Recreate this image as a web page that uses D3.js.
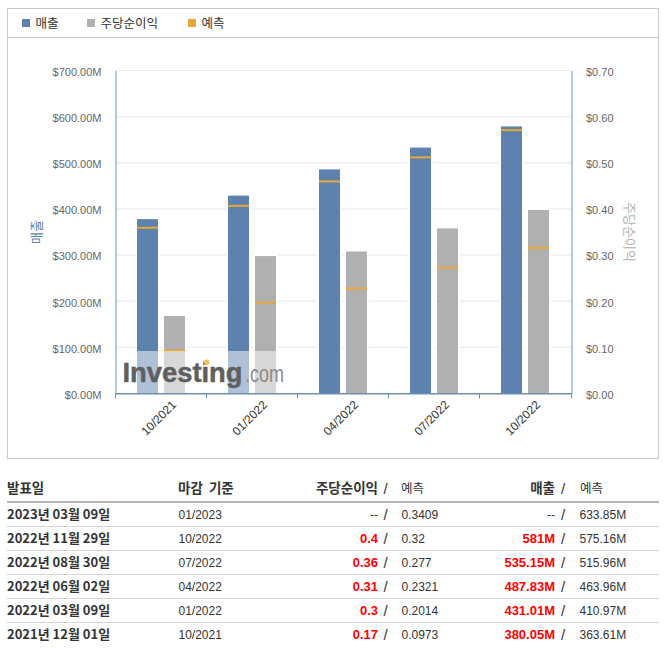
<!DOCTYPE html>
<html>
<head>
<meta charset="utf-8">
<title>매출 / 주당순이익</title>
<script src="https://d3js.org/d3.v7.min.js" charset="utf-8"></script>
<style type="text/css">
body { margin: 0; background: #fff; }
svg { display: block; }
text { font-family: 'Liberation Sans', Arial, sans-serif; }
text.kr { font-family: 'Noto Sans CJK KR', 'Liberation Sans', sans-serif; }
.axis-y text { font-size: 11px; fill: #666; }
.axis-x text { font-size: 12px; fill: #333; }
.cell { font-size: 12px; fill: #333; }
.slash { font-size: 15px; fill: #333; }
.cell-date { font-size: 13px; font-weight: 700; fill: #333; font-family: 'Noto Sans CJK KR', sans-serif; }
.cell-head { font-size: 13.5px; font-weight: 700; fill: #333; font-family: 'Noto Sans CJK KR', sans-serif; word-spacing: 3px; }
.cell-red { font-size: 13px; font-weight: 700; fill: #f00; }
</style>
</head>
<body>
<div id="chart"></div>
<script type="text/javascript">
// chart data
var categories = ['10/2021', '01/2022', '04/2022', '07/2022', '10/2022'];
var revenue = [380.05, 431.01, 487.83, 535.15, 581];
var revenueForecast = [363.61, 410.97, 463.96, 515.96, 575.16];
var eps = [0.17, 0.3, 0.31, 0.36, 0.4];
var epsForecast = [0.0973, 0.2014, 0.2321, 0.277, 0.32];

var revenueTicks = [0, 100, 200, 300, 400, 500, 600, 700];
var epsTicks = [0, 0.1, 0.2, 0.3, 0.4, 0.5, 0.6, 0.7];

// table data, newest first
var tableDates = ['2023년 03월 09일', '2022년 11월 29일', '2022년 08월 30일', '2022년 06월 02일', '2022년 03월 09일', '2021년 12월 01일'];
var tablePeriods = ['01/2023', '10/2022', '07/2022', '04/2022', '01/2022', '10/2021'];
var tableEps = ['--', '0.4', '0.36', '0.31', '0.3', '0.17'];
var tableEpsForecast = ['0.3409', '0.32', '0.277', '0.2321', '0.2014', '0.0973'];
var tableRevenue = ['--', '581M', '535.15M', '487.83M', '431.01M', '380.05M'];
var tableRevenueForecast = ['633.85M', '575.16M', '515.96M', '463.96M', '410.97M', '363.61M'];

var legendItems = ['매출', '주당순이익', '예측'];

var BLUE = '#5c82ad';
var GRAY = '#b0b0b0';
var ORANGE = '#e8a838';
var AXIS = '#6a8fb8';

var svg = d3.select('#chart').append('svg')
    .attr('width', 666)
    .attr('height', 654);

// outer frame
svg.append('rect')
    .attr('x', 7.5).attr('y', 8.5)
    .attr('width', 651).attr('height', 450)
    .attr('fill', '#fff').attr('stroke', '#c8c8c8');
svg.append('line')
    .attr('x1', 8).attr('x2', 658)
    .attr('y1', 37.5).attr('y2', 37.5)
    .attr('stroke', '#c8c8c8');

// legend
var legendX = [22, 87, 188];
var legendColors = [BLUE, GRAY, ORANGE];
var legend = svg.append('g').selectAll('g')
    .data(legendItems)
    .enter()
    .append('g')
    .attr('transform', function(d, i){ return 'translate(' + legendX[i] + ',19)'; });
legend.append('rect')
    .attr('width', 8).attr('height', 8)
    .attr('fill', function(d, i){ return legendColors[i]; });
legend.append('text')
    .attr('class', 'kr')
    .attr('x', 13.5).attr('y', 8.5)
    .attr('font-size', 12.5)
    .attr('fill', '#333')
    .text(function(d){ return d; });

// scales, the last band edge stops one pixel short of the right axis
var plotLeft = 115.5, plotRight = 571.5, plotTop = 70.5, plotBottom = 393.5;

var x = d3.scaleBand().domain(categories).range([plotLeft, plotRight - 1]);
// bars carry a 1px white edge drawn on top, so they are 2px wider than they look
var inner = d3.scaleBand().domain(['revenue', 'eps'])
    .range([0, 50]).paddingInner(4 / 27);
var offset = x.bandwidth() / 2 - 25;
var yRevenue = d3.scaleLinear().domain([0, 700]).range([plotBottom, plotTop]);
var yEps = d3.scaleLinear().domain([0, 0.7]).range([plotBottom, plotTop]);

// grid
svg.append('g').selectAll('line')
    .data(revenueTicks.slice(1))
    .enter()
    .append('line')
    .attr('x1', plotLeft).attr('x2', plotRight)
    .attr('y1', function(d){ return yRevenue(d); })
    .attr('y2', function(d){ return yRevenue(d); })
    .attr('stroke', '#e8e8ec');

// bars
function drawBars(values, forecast, y, key, color){
    var g = svg.append('g');
    g.selectAll('rect')
        .data(values)
        .enter()
        .append('rect')
        .attr('x', function(d, i){ return x(categories[i]) + offset + inner(key); })
        .attr('y', function(d){ return y(d); })
        .attr('width', inner.bandwidth())
        .attr('height', function(d){ return plotBottom - y(d) + 1; })
        .attr('fill', color)
        .attr('stroke', '#fff')
        .attr('stroke-width', 2);
    // forecast dash sits 2px under its value, as in the source
    g.selectAll('line')
        .data(forecast)
        .enter()
        .append('line')
        .attr('x1', function(d, i){ return x(categories[i]) + offset + inner(key) + 1; })
        .attr('x2', function(d, i){ return x(categories[i]) + offset + inner(key) + inner.bandwidth() - 1; })
        .attr('y1', function(d){ return y(d) + 2; })
        .attr('y2', function(d){ return y(d) + 2; })
        .attr('stroke', ORANGE)
        .attr('stroke-width', 2);
}
drawBars(revenue, revenueForecast, yRevenue, 'revenue', BLUE);
drawBars(eps, epsForecast, yEps, 'eps', GRAY);

// washed out band behind the logo
svg.append('rect')
    .attr('x', 115).attr('y', 351)
    .attr('width', 168).attr('height', 42)
    .attr('fill', '#fff').attr('opacity', 0.5);

// axes
var axisLeft = d3.axisLeft(yRevenue)
    .tickValues(revenueTicks)
    .tickSize(0).tickPadding(14)
    .tickFormat(function(d){ return '$' + d.toFixed(2) + 'M'; });
var gl = svg.append('g')
    .attr('class', 'axis-y')
    .attr('transform', 'translate(' + plotLeft + ',0)')
    .call(axisLeft);
gl.selectAll('text').attr('dy', '0.62em').attr('y', -2);
gl.select('.domain').attr('stroke', AXIS);

var axisRight = d3.axisRight(yEps)
    .tickValues(epsTicks)
    .tickSize(0).tickPadding(14.5)
    .tickFormat(function(d){ return '$' + d.toFixed(2); });
var gr = svg.append('g')
    .attr('class', 'axis-y')
    .attr('transform', 'translate(' + plotRight + ',0)')
    .call(axisRight);
gr.selectAll('text').attr('dy', '0.62em').attr('y', -2);
gr.select('.domain').attr('stroke', AXIS);

var axisBottom = d3.axisBottom(x).tickSize(0).tickPadding(0);
var gb = svg.append('g')
    .attr('class', 'axis-x')
    .attr('transform', 'translate(0,' + plotBottom + ')')
    .call(axisBottom);
gb.select('.domain').attr('stroke', AXIS);
gb.append('line')
    .attr('x1', plotLeft).attr('x2', plotRight)
    .attr('y1', 0).attr('y2', 0)
    .attr('stroke', AXIS);
gb.selectAll('.tick text')
    .attr('text-anchor', 'end')
    .attr('dy', 0)
    .attr('y', 0)
    .attr('x', 0)
    .attr('transform', 'translate(16,12) rotate(-45)');
// ticks sit on the band edges
gb.selectAll('line.edge')
    .data(categories.concat(['end']))
    .enter()
    .append('line')
    .attr('class', 'edge')
    .attr('x1', function(d, i){ return i < categories.length ? x(d) : plotRight; })
    .attr('x2', function(d, i){ return i < categories.length ? x(d) : plotRight; })
    .attr('y1', 0).attr('y2', 5)
    .attr('stroke', AXIS);

// axis titles
svg.append('text')
    .attr('class', 'kr')
    .attr('transform', 'translate(41,232) rotate(-90)')
    .attr('text-anchor', 'middle')
    .attr('font-size', 13)
    .attr('fill', BLUE)
    .text(legendItems[0]);
svg.append('text')
    .attr('class', 'kr')
    .attr('transform', 'translate(625,232) rotate(90)')
    .attr('text-anchor', 'middle')
    .attr('font-size', 13)
    .attr('fill', GRAY)
    .text(legendItems[1]);

// logo
var logo = svg.append('g');
logo.append('text')
    .attr('x', 122.5).attr('y', 382)
    .attr('font-size', 28).attr('font-weight', 700)
    .attr('textLength', 120).attr('lengthAdjust', 'spacingAndGlyphs')
    .attr('fill', '#5f5f5f')
    .attr('stroke', '#5f5f5f').attr('stroke-width', 0.5)
    .text('Investing');
logo.append('text')
    .attr('x', 245).attr('y', 382)
    .attr('font-size', 23)
    .attr('textLength', 39).attr('lengthAdjust', 'spacingAndGlyphs')
    .attr('fill', '#8a8a8a')
    .text('.com');
logo.append('rect')
    .attr('x', 204).attr('y', 360)
    .attr('width', 5).attr('height', 5)
    .attr('transform', 'rotate(-15 206 362)')
    .attr('fill', '#f5c060');

// table
var rowY = d3.scaleBand().domain(tableDates).range([503, 647]);

svg.append('text').attr('class', 'cell-head').attr('x', 7).attr('y', 493).text('발표일');
svg.append('text').attr('class', 'cell-head').attr('x', 178).attr('y', 493).text('마감 기준');
svg.append('text').attr('class', 'cell-head').attr('x', 378).attr('y', 493).attr('text-anchor', 'end').text('주당순이익');
svg.append('text').attr('class', 'slash').attr('x', 383.5).attr('y', 494).text('/');
svg.append('text').attr('class', 'cell kr').attr('x', 401).attr('y', 493).style('font-size', '12.5px').text('예측');
svg.append('text').attr('class', 'cell-head').attr('x', 555).attr('y', 493).attr('text-anchor', 'end').text('매출');
svg.append('text').attr('class', 'slash').attr('x', 561).attr('y', 494).text('/');
svg.append('text').attr('class', 'cell kr').attr('x', 580).attr('y', 493).style('font-size', '12.5px').text('예측');

svg.append('rect')
    .attr('x', 7).attr('y', 501)
    .attr('width', 652).attr('height', 2)
    .attr('fill', '#b4b4b4');

var rows = svg.append('g').selectAll('g')
    .data(tableDates)
    .enter()
    .append('g')
    .attr('transform', function(d){ return 'translate(0,' + rowY(d) + ')'; });

var rowBase = 16;
rows.append('text').attr('class', 'cell-date')
    .attr('x', 7).attr('y', rowBase)
    .text(function(d){ return d; });
rows.append('text').attr('class', 'cell')
    .attr('x', 178.5).attr('y', rowBase)
    .text(function(d, i){ return tablePeriods[i]; });
rows.append('text')
    .attr('class', function(d, i){ return tableEps[i] == '--' ? 'cell' : 'cell-red'; })
    .attr('x', 378).attr('y', rowBase).attr('text-anchor', 'end')
    .text(function(d, i){ return tableEps[i]; });
rows.append('text').attr('class', 'slash')
    .attr('x', 383.5).attr('y', rowBase + 1).text('/');
rows.append('text').attr('class', 'cell')
    .attr('x', 401.5).attr('y', rowBase)
    .text(function(d, i){ return tableEpsForecast[i]; });
rows.append('text')
    .attr('class', function(d, i){ return tableRevenue[i] == '--' ? 'cell' : 'cell-red'; })
    .attr('x', 555).attr('y', rowBase).attr('text-anchor', 'end')
    .text(function(d, i){ return tableRevenue[i]; });
rows.append('text').attr('class', 'slash')
    .attr('x', 561).attr('y', rowBase + 1).text('/');
rows.append('text').attr('class', 'cell')
    .attr('x', 579.5).attr('y', rowBase)
    .text(function(d, i){ return tableRevenueForecast[i]; });
rows.filter(function(d, i){ return i < tableDates.length - 1; })
    .append('line')
    .attr('x1', 7).attr('x2', 659)
    .attr('y1', 23.5).attr('y2', 23.5)
    .attr('stroke', '#d4d4d4');
</script>
</body>
</html>
